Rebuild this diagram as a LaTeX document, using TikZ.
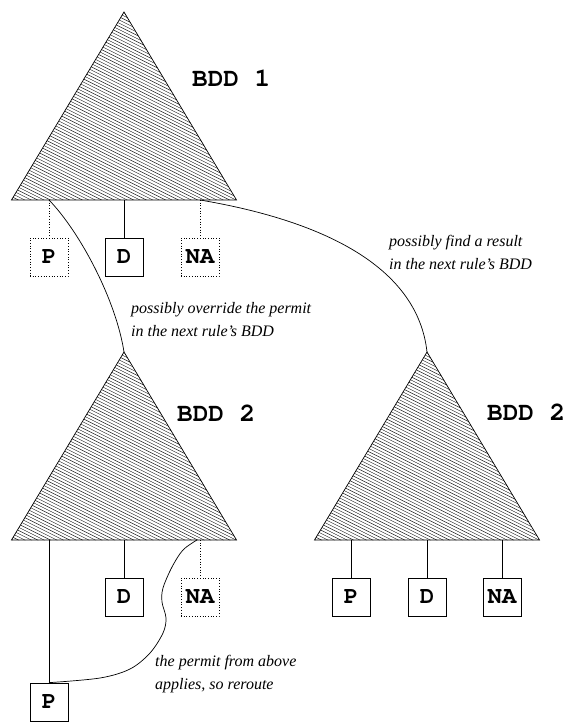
\documentclass[tikz,border=0pt]{standalone}
\usepackage[T1]{fontenc}
\usepackage{fontspec}
\setmainfont{Liberation Serif}
% bold Courier for the node letters and tree labels
\newcommand\couriertype[1]{\fontencoding{T1}\fontfamily{pcr}\fontseries{b}\fontsize{#1}{#1}\selectfont}
\begin{document}
\begin{tikzpicture}[x=1pt,y=-1pt,
  leaf/.style={draw,line width=0.7pt,minimum width=38pt,minimum height=38pt,inner sep=0pt,
               font=\couriertype{24}},
  ghost/.style={leaf,dotted},
  wire/.style={line width=0.7pt},
  ghostwire/.style={line width=0.7pt,dotted},
  bddlabel/.style={anchor=base west,inner sep=0pt,font=\couriertype{26}},
  note/.style={anchor=base west,inner sep=0pt,align=left,
               font=\fontsize{16}{23}\selectfont\itshape},
  hatch/.style={line width=0.38pt,black},
  outline/.style={line width=0.7pt}]
\useasboundingbox (0,0) rectangle (566,727);

% a hatched triangle: apex at (#1,#2), base 188 below, 225 wide
\newcommand\bddtri[2]{%
  \begin{scope}
    \clip (#1,#2) -- ({#1-112.5},{#2+188}) -- ({#1+112.5},{#2+188}) -- cycle;
    \foreach \k in {0,...,100}{
      \draw[hatch] ({#1-120},{#2-120+3.2*\k}) -- ({#1+120},{#2+3.2*\k});
    }
  \end{scope}
  \draw[outline,line join=miter] (#1,#2) -- ({#1-112.5},{#2+188}) -- ({#1+112.5},{#2+188}) -- cycle;
}

% top tree
\bddtri{124}{12}
\coordinate (a1) at (124,12);
\coordinate (a1p) at (49,200);
\coordinate (a1d) at (124,200);
\coordinate (a1n) at (200,200);
\node[bddlabel] (lab1) at (192,87) {BDD 1};
\node[ghost] (p1) at (49,257) {P};
\node[leaf]  (d1) at (124,257) {D};
\node[ghost] (n1) at (200,257) {NA};
\draw[ghostwire] (a1p) -- (p1.north);
\draw[wire] (a1d) -- (d1.north);
\draw[ghostwire] (a1n) -- (n1.north);

% lower left tree
\bddtri{124}{352}
\coordinate (a2) at (124,352);
\coordinate (a2p) at (49,540);
\coordinate (a2d) at (124,540);
\coordinate (a2n) at (200,540);
\coordinate (a2r) at (197,540);
\node[bddlabel] (lab2) at (177,421) {BDD 2};
\node[leaf]  (p2) at (49,702) {P};
\node[leaf]  (d2) at (124,597) {D};
\node[ghost] (n2) at (200,597) {NA};
\draw[wire] (a2p) -- (p2.north);
\draw[wire] (a2d) -- (d2.north);
\draw[ghostwire] (a2n) -- (n2.north);

% lower right tree
\bddtri{427}{352}
\coordinate (a3) at (427,352);
\coordinate (a3p) at (351,540);
\coordinate (a3d) at (427,540);
\coordinate (a3n) at (502,540);
\node[bddlabel] (lab3) at (487,420) {BDD 2};
\node[leaf] (p3) at (351,597) {P};
\node[leaf] (d3) at (427,597) {D};
\node[leaf] (n3) at (502,597) {NA};
\draw[wire] (a3p) -- (p3.north);
\draw[wire] (a3d) -- (d3.north);
\draw[wire] (a3n) -- (n3.north);

% links between the trees
\draw[wire] (a1p) .. controls (80,232) and (116,300) .. (a2);
\draw[wire] (a1n) .. controls (330,222) and (418,270) .. (a3);
\draw[wire] plot[smooth,tension=0.55] coordinates
  {(p2.north) (100,678) (130,669) (150,653) (163,633) (166,618) (162,602) (163,588) (172,567) (183,550) (a2r)};

% notes (node base is the last line's baseline)
\node[note] (t1) at (131,336) {possibly override the permit\\in the next rule's BDD};
\node[note] (t2) at (389,269) {possibly find a result\\in the next rule's BDD};
\node[note] (t3) at (155,689) {the permit from above\\applies, so reroute};
\end{tikzpicture}
\end{document}
